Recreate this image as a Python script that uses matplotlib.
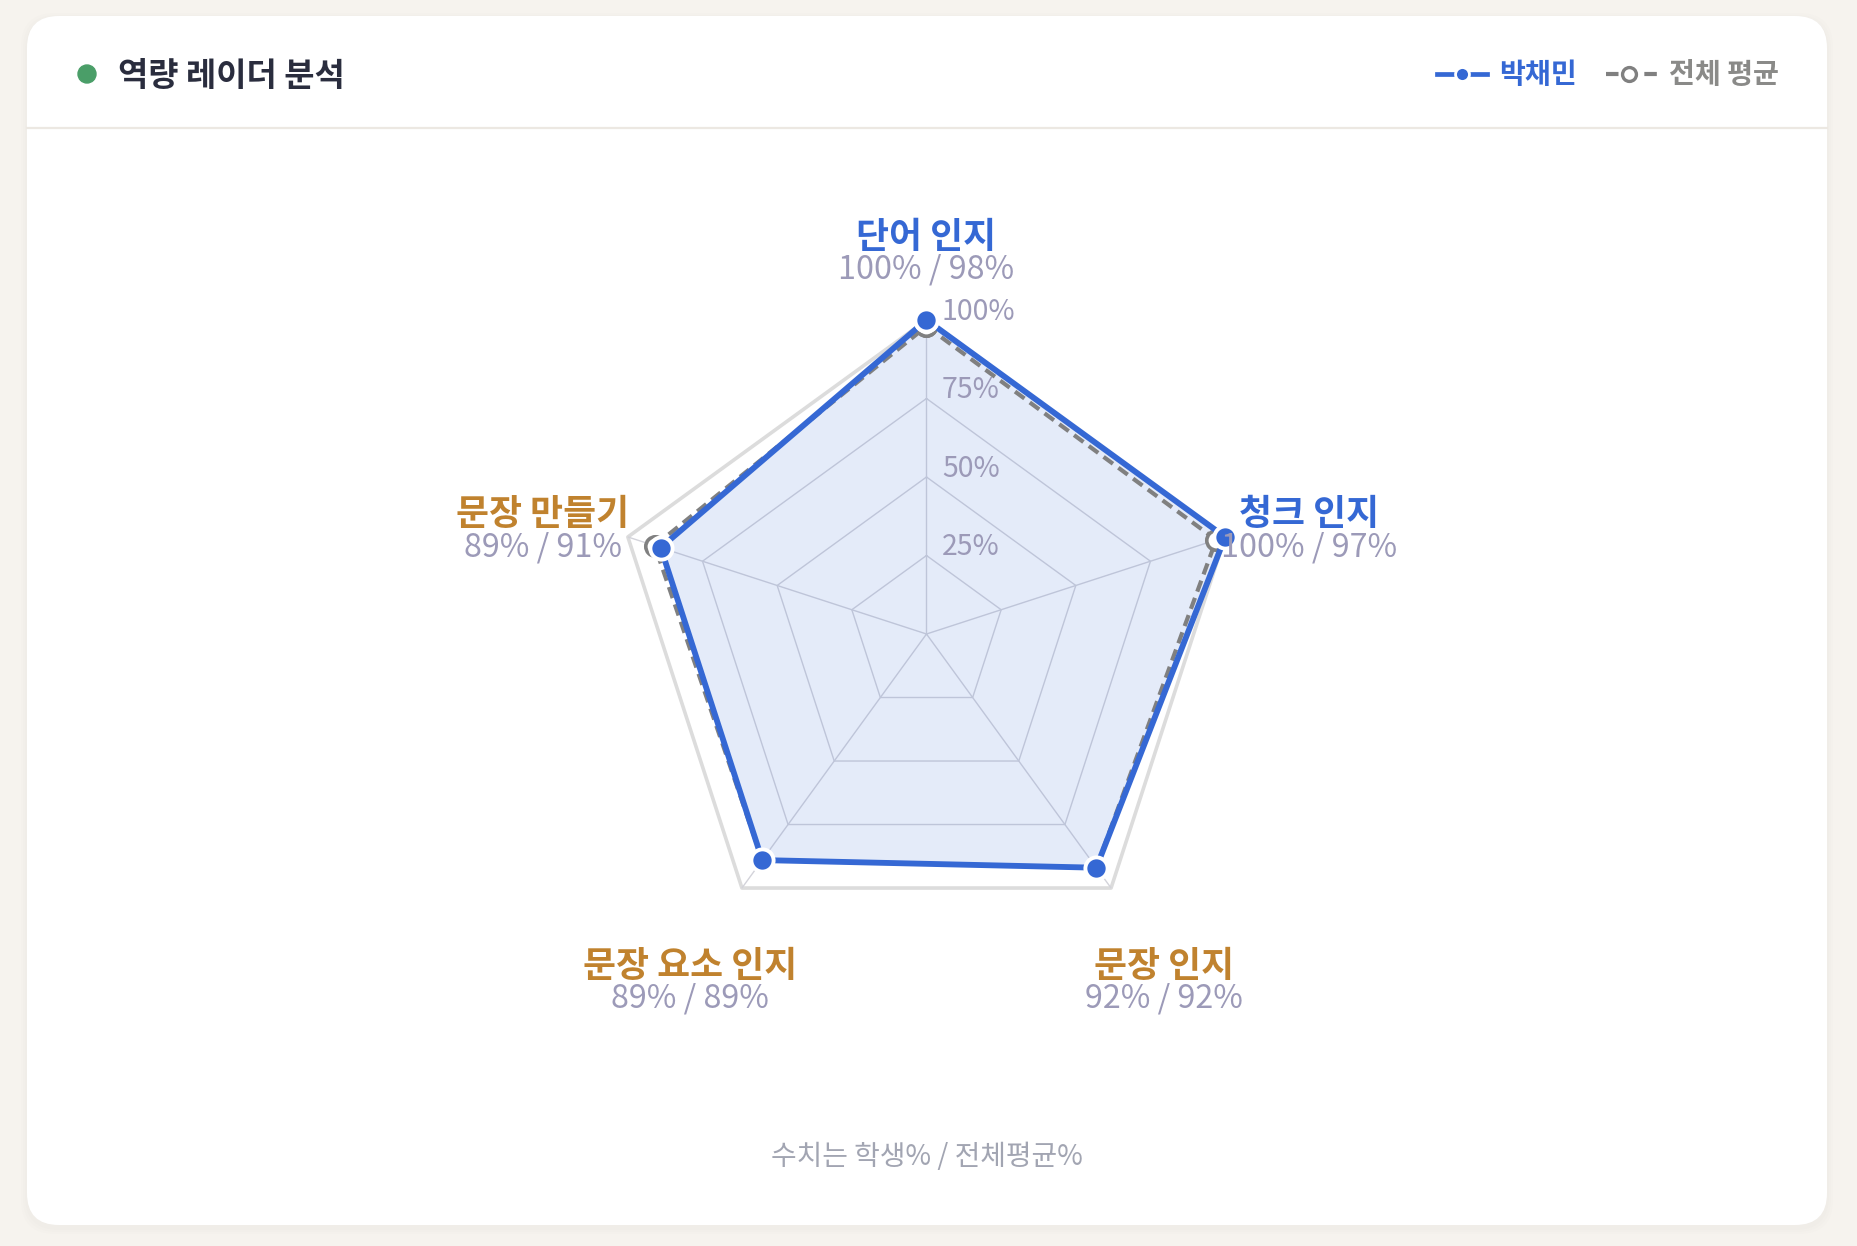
import numpy as np
import matplotlib
matplotlib.use("Agg")
import matplotlib.pyplot as plt
from matplotlib.patches import FancyBboxPatch, Circle
from matplotlib.lines import Line2D

plt.rcParams['font.family'] = ['Noto Sans CJK KR', 'DejaVu Sans']

# ---------------- data ----------------
categories = ["단어 인지", "청크 인지", "문장 인지", "문장 요소 인지", "문장 만들기"]
student = [100, 100, 92, 89, 89]
average = [98, 97, 92, 89, 91]
grid_levels = [25, 50, 75, 100]
grid_labels = ["25%", "50%", "75%", "100%"]
student_name = "박채민"
average_name = "전체 평균"
title_text = "역량 레이더 분석"
footer_text = "수치는 학생% / 전체평균%"

# ---------------- style ----------------
W, H, DPI = 1858, 1246, 100
BLUE = "#3568d4"
GOLD = "#c0822e"
GRAY = "#808080"
VAL = "#9c9ab8"
BG = "#f6f3ee"

fig = plt.figure(figsize=(W / DPI, H / DPI), dpi=DPI)
fig.patch.set_facecolor(BG)

# overlay axes in pixel coordinates
ov = fig.add_axes([0, 0, 1, 1])
ov.set_xlim(0, W)
ov.set_ylim(H, 0)
ov.axis("off")

# card shadow + card
for i in range(3):
    s = 4 + i * 4
    ov.add_patch(FancyBboxPatch((27 - s / 2, 16 - s / 2 + 3), 1800 + s, 1209 + s,
                                boxstyle="round,pad=0,rounding_size=34",
                                fc="#b0a890", ec="none", alpha=0.02, zorder=0))
ov.add_patch(FancyBboxPatch((27, 16), 1800, 1209, boxstyle="round,pad=0,rounding_size=32",
                            fc="white", ec="none", zorder=1))
ov.plot([27, 1827], [128, 128], color="#ece8e2", lw=1.6, zorder=2)

# title
ov.add_patch(Circle((87, 74), 9, color="#4a9e68", zorder=3))
ov.text(118, 76.5, title_text, fontsize=23.7, fontweight="bold", color="#2a2d3e",
        ha="left", va="center", zorder=3)

# legend
LY = 74
ov.add_line(Line2D([1437, 1487], [LY, LY], color=BLUE, lw=3.4, zorder=3))
ov.plot([1462], [LY], marker="o", ms=10, mfc=BLUE, mec="white", mew=2, zorder=4)
ov.text(1499, LY + 0.5, student_name, fontsize=20.3, fontweight="bold", color=BLUE,
        ha="left", va="center", zorder=3)
ov.add_line(Line2D([1606, 1658], [LY, LY], color=GRAY, lw=3, dashes=(3, 2.6, 1, 2.6), zorder=3))
ov.plot([1629], [LY], marker="o", ms=10, mfc="white", mec=GRAY, mew=2.4, zorder=4)
ov.text(1669, LY + 0.5, average_name, fontsize=20.3, fontweight="bold", color="#8a8a88",
        ha="left", va="center", zorder=3)

# footer
ov.text(926.5, 1157, footer_text, fontsize=20.1, color="#a2a5b2", ha="center", va="center", zorder=3)

# ---------------- radar ----------------
cx, cy, R = 926.5, 634, 314
ax = fig.add_axes([(cx - R) / W, (H - cy - R) / H, 2 * R / W, 2 * R / H], projection="polar")
ax.set_theta_offset(np.pi / 2)
ax.set_theta_direction(-1)
ax.set_ylim(0, 100)
ax.set_xticks([])
ax.set_yticks([])
ax.grid(False)
ax.spines["polar"].set_visible(False)
ax.patch.set_alpha(0)

n = len(categories)
theta = np.arange(n) * 2 * np.pi / n
tc = np.append(theta, theta[0])

for lv in grid_levels:
    if lv == 100:
        ax.plot(tc, [lv] * (n + 1), color="#dcdcdc", lw=2.6, zorder=1, clip_on=False)
    else:
        ax.plot(tc, [lv] * (n + 1), color="#d3d3da", lw=1.0, zorder=1)
for t in theta:
    ax.plot([t, t], [0, 100], color="#d3d3da", lw=1.0, zorder=1)

sc = np.append(student, student[0])
avc = np.append(average, average[0])
ax.fill(tc, sc, color=BLUE, alpha=0.13, lw=0, zorder=2)
ax.plot(tc, avc, color=GRAY, lw=3.0, dashes=(2.8, 1.6), zorder=3, clip_on=False,
        marker="o", ms=14, mfc="white", mec=GRAY, mew=2.6)
ax.plot(tc, sc, color=BLUE, lw=4.2, zorder=4, clip_on=False,
        marker="o", ms=16, mfc=BLUE, mec="white", mew=2.8)

# radial tick labels
for lv, lab in zip(grid_levels, grid_labels):
    ax.annotate(lab, xy=(0, lv), xytext=(11, 6), textcoords="offset points",
                fontsize=20.5, color=VAL, ha="left", va="center", zorder=5, annotation_clip=False)

# category labels (offsets in px: dx, dy_title, dy_value)
offsets = [(0, 83, 51), (84, 22, -11), (53, -78, -110), (-52, -78, -110), (-85, 22, -11)]
k = 72.0 / DPI
for i, (t, cat) in enumerate(zip(theta, categories)):
    dx, dyt, dyv = offsets[i]
    col = BLUE if student[i] > average[i] else GOLD
    ax.annotate(cat, xy=(t, 100), xytext=(dx * k, dyt * k), textcoords="offset points",
                fontsize=25.8, fontweight="bold", color=col, ha="center", va="center",
                annotation_clip=False, zorder=6)
    ax.annotate(f"{student[i]}% / {average[i]}%", xy=(t, 100), xytext=(dx * k, dyv * k),
                textcoords="offset points", fontsize=23.2, color=VAL, ha="center",
                va="center", annotation_clip=False, zorder=6)

fig.savefig("out.png", dpi=DPI, facecolor=BG)
